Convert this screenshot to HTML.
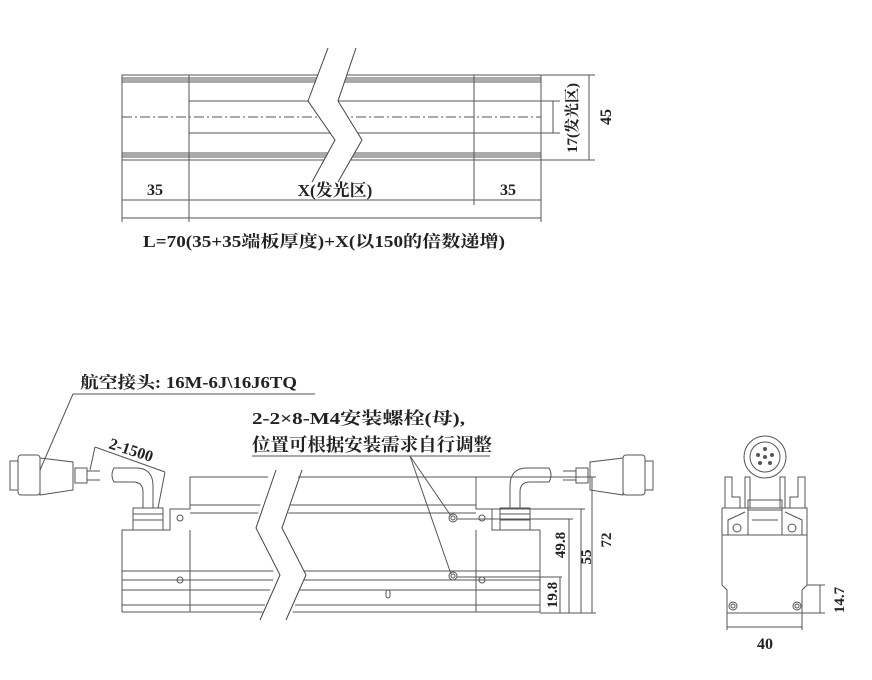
<!DOCTYPE html>
<html><head><meta charset="utf-8"><style>
html,body{margin:0;padding:0;background:#fff;}
svg{display:block;}
text{font-family:"Liberation Serif","Noto Serif CJK SC","Noto Sans CJK SC",serif;font-weight:bold;fill:#222;}
</style></head><body>
<svg width="872" height="680" viewBox="0 0 872 680" xmlns="http://www.w3.org/2000/svg">
<g fill="none" stroke="#555" stroke-width="1">
<rect x="122" y="75" width="419" height="85"/>
<line x1="122" y1="78" x2="541" y2="78"/><line x1="122" y1="80" x2="541" y2="80"/><line x1="122" y1="82" x2="541" y2="82"/>
<line x1="122" y1="153" x2="541" y2="153"/><line x1="122" y1="155" x2="541" y2="155"/><line x1="122" y1="157" x2="541" y2="157"/>
<line x1="189" y1="75" x2="189" y2="222"/><line x1="474" y1="75" x2="474" y2="205"/>
<line x1="122" y1="160" x2="122" y2="222"/><line x1="541" y1="160" x2="541" y2="222"/>
<line x1="189" y1="101" x2="560" y2="101"/><line x1="189" y1="133" x2="560" y2="133"/>
<line x1="122" y1="117" x2="541" y2="117" stroke-dasharray="10,3,2,3"/>
<line x1="553" y1="101" x2="553" y2="133"/>
<line x1="541" y1="75" x2="595" y2="75"/><line x1="541" y1="160" x2="595" y2="160"/>
<line x1="589" y1="75" x2="589" y2="160"/>
<line x1="122" y1="200" x2="541" y2="200"/>
<line x1="122" y1="218" x2="541" y2="218"/>
</g>
<polygon points="328,48 356,48 338,101 362,140 338,182 312,182 335,140 308,101" fill="#fff"/>
<polyline points="328,48 308,101 335,140 312,182" fill="none" stroke="#444"/>
<polyline points="356,48 338,101 362,140 338,182" fill="none" stroke="#444"/>
<text x="155" y="195" font-size="16" text-anchor="middle">35</text>
<text x="335" y="196" font-size="17" text-anchor="middle">X(发光区)</text>
<text x="508" y="195" font-size="16" text-anchor="middle">35</text>
<text x="0" y="0" font-size="15" transform="translate(577,118) rotate(-90)" text-anchor="middle">17(发光区)</text>
<text x="0" y="0" font-size="16" transform="translate(611,117) rotate(-90)" text-anchor="middle">45</text>
<text x="143" y="247" font-size="16.5" textLength="362" lengthAdjust="spacingAndGlyphs">L=70(35+35端板厚度)+X(以150的倍数递增)</text>

<g fill="none" stroke="#555" stroke-width="1">
<polyline points="122,612 122,530 170,530 170,509 190,509 190,477 476,477 476,509 492,509 492,530 540,530 540,612 122,612"/>
<line x1="190" y1="505" x2="476" y2="505"/><line x1="190" y1="513" x2="476" y2="513"/>
<line x1="122" y1="571" x2="540" y2="571"/><line x1="122" y1="580" x2="540" y2="580"/>
<line x1="122" y1="590" x2="540" y2="590"/><line x1="122" y1="605" x2="540" y2="605"/>
<line x1="190" y1="530" x2="190" y2="612"/><line x1="476" y1="530" x2="476" y2="612"/>
<circle cx="180" cy="518" r="3"/><circle cx="180" cy="580" r="3"/>
<circle cx="482" cy="518" r="3"/><circle cx="482" cy="580" r="3"/>
<circle cx="453" cy="518" r="4"/><circle cx="453" cy="518" r="2"/>
<circle cx="453" cy="576" r="4"/><circle cx="453" cy="576" r="2"/>
<rect x="386" y="590" width="4" height="8" rx="2"/>
<rect x="133" y="508" width="30" height="22"/><line x1="133" y1="514" x2="163" y2="514"/><line x1="133" y1="520" x2="163" y2="520"/>
<path d="M143,508 L143,492 Q143,482 133,482 L114,482 Q110,475 114,468 L136,468 Q153,468 153,486 L153,508"/>
<rect x="10" y="461" width="8" height="29"/>
<rect x="18" y="455" width="22" height="40" rx="3"/>
<polygon points="40,458 73,462 73,490 40,495"/>
<rect x="75" y="468" width="12" height="15"/><line x1="87" y1="471" x2="100" y2="471"/><line x1="87" y1="480" x2="100" y2="480"/>
<rect x="500" y="508" width="30" height="22"/><line x1="500" y1="514" x2="530" y2="514"/><line x1="500" y1="520" x2="530" y2="520"/>
<path d="M520,508 L520,492 Q520,482 530,482 L549,482 Q553,475 549,468 L527,468 Q510,468 510,486 L510,508"/>
<rect x="645" y="461" width="8" height="29"/>
<rect x="623" y="455" width="22" height="40" rx="3"/>
<polygon points="623,458 590,462 590,490 623,495"/>
<rect x="576" y="468" width="12" height="15"/><line x1="563" y1="471" x2="576" y2="471"/><line x1="563" y1="480" x2="576" y2="480"/>
<line x1="476" y1="477" x2="596" y2="477"/><line x1="492" y1="509" x2="585" y2="509"/>
<line x1="457" y1="519" x2="573" y2="519"/><line x1="457" y1="577" x2="562" y2="577"/>
<line x1="540" y1="613" x2="596" y2="613"/>
<line x1="560" y1="577" x2="560" y2="613"/><line x1="569" y1="519" x2="569" y2="613"/>
<line x1="581" y1="509" x2="581" y2="613"/><line x1="592" y1="477" x2="592" y2="613"/>
<line x1="95" y1="447" x2="165" y2="472"/><line x1="95" y1="447" x2="90" y2="470"/><line x1="165" y1="472" x2="158" y2="508"/>
<polyline points="40,470 73,394 315,394"/>
<line x1="252" y1="456" x2="490" y2="456"/>
<line x1="410" y1="456" x2="451" y2="516"/><line x1="410" y1="456" x2="451" y2="574"/>
<polyline points="722,508 807,508 807,585 802,590 802,613 727,613 727,590 722,585 722,508"/>
<line x1="722" y1="535" x2="807" y2="535"/>
<circle cx="765" cy="457" r="21"/><circle cx="765" cy="457" r="15"/>
<circle cx="765" cy="449" r="1.5" fill="#555"/><circle cx="758" cy="455" r="1.5" fill="#555"/><circle cx="772" cy="455" r="1.5" fill="#555"/><circle cx="760" cy="463" r="1.5" fill="#555"/><circle cx="770" cy="463" r="1.5" fill="#555"/><circle cx="765" cy="457" r="1.5" fill="#555"/>
<polyline points="725,508 725,477 732,477 732,497 740,497 740,508"/>
<polyline points="805,508 805,477 798,477 798,497 790,497 790,508"/>
<polyline points="745,508 745,477 750,477 750,508"/><polyline points="785,508 785,477 780,477 780,508"/>
<rect x="748" y="500" width="34" height="35"/><line x1="748" y1="510" x2="782" y2="510"/><line x1="752" y1="520" x2="778" y2="520"/>
<path d="M728,535 L728,520 L745,512"/><path d="M802,535 L802,520 L785,512"/>
<circle cx="737" cy="528" r="4"/><circle cx="792" cy="528" r="4"/>
<circle cx="733" cy="606" r="4"/><circle cx="733" cy="606" r="2"/><circle cx="797" cy="606" r="4"/><circle cx="797" cy="606" r="2"/>
<line x1="727" y1="613" x2="727" y2="630"/><line x1="802" y1="613" x2="802" y2="630"/>
<line x1="727" y1="627" x2="802" y2="627"/>
<line x1="807" y1="585" x2="825" y2="585"/><line x1="802" y1="613" x2="825" y2="613"/>
<line x1="820" y1="585" x2="820" y2="613"/>
</g>
<polygon points="270,470 300,470 285,525 305,575 290,620 260,620 275,575 255,525" fill="#fff"/>
<polyline points="276,470 256,528 280,575 260,620" fill="none" stroke="#444"/>
<polyline points="302,470 282,528 306,575 286,620" fill="none" stroke="#444"/>
<text x="80" y="388" font-size="16.5" textLength="217" lengthAdjust="spacingAndGlyphs">航空接头: 16M-6J\16J6TQ</text>
<text x="252" y="424" font-size="17" textLength="213" lengthAdjust="spacingAndGlyphs">2-2×8-M4安装螺栓(母),</text>
<text x="252" y="451" font-size="18" textLength="240" lengthAdjust="spacingAndGlyphs">位置可根据安装需求自行调整</text>
<text x="0" y="0" font-size="16" transform="translate(108,448) rotate(18)">2-1500</text>
<text x="0" y="0" font-size="15" transform="translate(557,595) rotate(-90)" text-anchor="middle">19.8</text>
<text x="0" y="0" font-size="15" transform="translate(565,545) rotate(-90)" text-anchor="middle">49.8</text>
<text x="0" y="0" font-size="15" transform="translate(591,557) rotate(-90)" text-anchor="middle">55</text>
<text x="0" y="0" font-size="15" transform="translate(611,540) rotate(-90)" text-anchor="middle">72</text>
<text x="765" y="649" font-size="16" text-anchor="middle">40</text>
<text x="0" y="0" font-size="15" transform="translate(844,600) rotate(-90)" text-anchor="middle">14.7</text>
</svg>
</body></html>
